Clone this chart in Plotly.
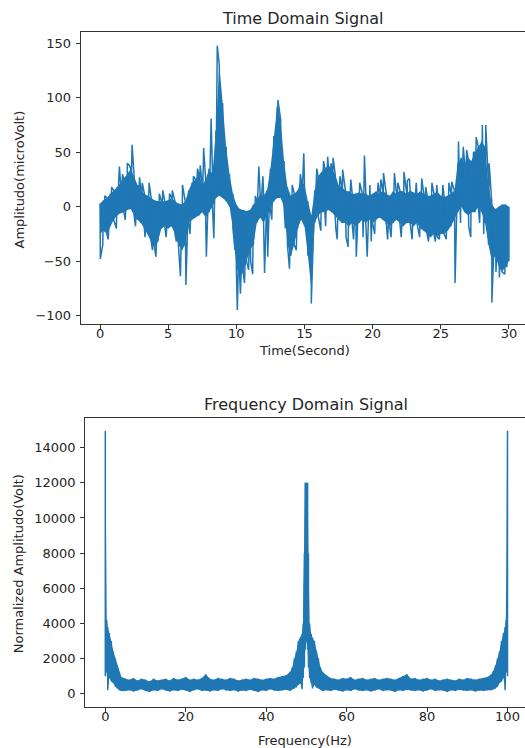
import plotly.graph_objects as go

# ---------------- Time domain data ----------------
time_s = [i * 0.25 for i in range(121)]
upper_uv = [
    3, 6, 8, 12, 15, 18, 22, 25,
    30, 35, 28, 20, 15, 12, 10, 8,
    6, 5, 5, 5, 6, 8, 5, 3,
    2, 5, 15, 22, 25, 30, 20, 25,
    35, 30, 70, 130, 95, 55, 30, 12,
    2, -2, -3, -4, -3, 2, 5, 12,
    10, 15, 35, 65, 92, 80, 42, 18,
    10, 12, 15, 25, 20, 5, -8, 15,
    28, 32, 35, 38, 35, 30, 20, 18,
    15, 14, 12, 12, 13, 12, 12, 10,
    12, 14, 12, 15, 12, 10, 14, 12,
    15, 14, 12, 15, 13, 12, 14, 12,
    10, 10, 12, 14, 10, 9, 10, 12,
    15, 40, 45, 40, 45, 42, 50, 55,
    60, 55, 20, 2, -2, 0, 2, 2,
    0,
]
lower_uv = [
    -25, -22, -25, -18, -12, -8, -6, -5,
    -3, -2, -8, -12, -15, -20, -25, -32,
    -38, -32, -20, -18, -20, -18, -25, -35,
    -40, -35, -15, -12, -10, -8, -5, -10,
    -5, 0, 8, 10, 8, 5, 0, -20,
    -55, -65, -60, -50, -40, -35, -15, -10,
    -15, -8, -3, 5, 8, 8, 0, -35,
    -45, -35, -20, -12, -18, -45, -75, -15,
    -8, -5, -5, -3, -5, -8, -12, -15,
    -15, -18, -15, -18, -15, -12, -15, -12,
    -15, -12, -10, -12, -15, -18, -15, -12,
    -15, -18, -15, -15, -18, -15, -20, -22,
    -25, -28, -25, -28, -25, -25, -22, -18,
    -12, -5, 0, -5, -8, -5, -5, 0,
    -5, -15, -35, -50, -45, -55, -60, -55,
    -50,
]
# large isolated excursions
spike_t = [0.02, 0.2, 0.6, 1.05, 1.42, 2.0, 2.35, 2.9, 3.6, 4.1, 4.6, 5.3,
           5.9, 6.05, 6.3, 7.15, 7.6, 7.8, 8.15, 8.35, 8.6, 10.07, 10.3, 10.9,
           11.2, 11.65, 11.95, 12.07, 12.3, 13.05, 13.9, 14.95, 15.5, 16.2,
           16.7, 17.1, 17.4, 17.8, 18.2, 18.8, 19.4, 19.6, 19.9, 20.4, 20.8,
           21.1, 21.6, 22.3, 22.7, 23.6, 24.7, 25.8, 26.05, 26.3, 26.9, 27.2,
           27.6, 28.05, 28.15, 28.3, 28.75, 29.3, 29.7]
spike_uv = [-48, -35, -30, -14, 37, 40, 57, 27, 22, -46, 15, 15,
            -64, 20, -72, 35, 54, -46, 81, -29, 148, -95, -80, -58,
            -62, 37, 28, -61, -46, 98, -57, 49, -89, -22,
            46, 45, -30, 34, -37, -46, 47, -46, -32, 22, 31,
            -30, 31, 32, 26, 26, 20, 23, -70, 60, 52, -28,
            64, 75, -25, 75, -88, -65, -62]
# smaller excursions along the band edges
minor_t = [0.35, 0.85, 1.2, 1.65, 1.85, 2.15, 2.6, 3.1, 3.3, 3.85, 4.35, 4.85,
           5.1, 5.6, 6.6, 6.85, 7.35, 9.9, 10.6, 11.05, 11.4, 12.6, 13.6, 14.1,
           14.4, 14.7, 15.9, 16.4, 16.55, 16.95, 17.3, 17.6, 18.05, 18.4, 18.6,
           19.05, 19.3, 19.8, 20.15, 20.6, 21.35, 21.85, 22.1, 22.55, 22.9, 23.2,
           23.45, 23.9, 24.1, 24.35, 24.6, 24.9, 25.15, 25.4, 25.6, 26.45, 26.65,
           27.05, 27.4, 27.85, 28.55, 29.05, 29.85]
minor_uv = [10, 18, -20, 30, -12, 38, -18, 22, -28, -40, 12, -28,
            12, -32, -25, 28, 38, -40, -70, -50, 10, -12, -20, 20,
            -40, 30, 35, 42, -18, 40, -20, 28, -28, 25, -30,
            22, -28, 20, -25, 25, -28, 22, -28, 24, -30, 22,
            -28, 18, -32, 22, -32, -30, 20, -30, 22, -15, 55,
            -18, 50, -15, 40, -60, -55]

# ---------------- Frequency domain data ----------------
freq_hz = ([0, 0.15, 0.35, 0.6, 1, 1.5, 2, 2.5, 3, 3.5, 4]
           + list(range(5, 46))
           + [46, 46.5, 47, 47.5, 48, 48.5, 48.9, 49.2, 49.5, 49.7, 50.0,
              50.3, 50.5, 50.8, 51.2, 51.5, 52, 52.5, 53, 53.5, 54]
           + list(range(55, 96))
           + [96, 96.5, 97, 97.5, 98, 98.5, 99, 99.4, 99.65, 99.85, 100])
fft_upper = ([14960, 6300, 4200, 3800, 3450, 3000, 2400, 2000, 1600, 1200, 950]
             + [850, 800, 900, 750, 850, 800, 700, 850, 750, 800, 850, 750, 900, 800,
                850, 950, 800, 850, 800, 900, 1100, 850, 800, 900, 850, 800, 900, 850,
                750, 800, 850, 800, 900, 850, 800, 850, 900, 850, 950, 1000, 1050]
             + [1250, 1500, 2000, 2400, 3000, 3200, 3400, 4000, 8000, 12000, 12000,
                12000, 8000, 4000, 3400, 3200, 3000, 2400, 2000, 1500, 1250]
             + [1050, 900, 850, 800, 900, 850, 950, 800, 850, 900, 800, 850, 900, 800,
                850, 900, 850, 800, 900, 1000, 1100, 850, 900, 800, 850, 900, 800, 850,
                750, 800, 850, 800, 750, 850, 800, 900, 850, 800, 850, 900, 950]
             + [1100, 1300, 1600, 2000, 2400, 3000, 3450, 3800, 4200, 6300, 14960])
fft_lower = ([1000, 1500, 1200, 200, 900, 700, 600, 400, 300, 200, 150]
             + [150, 200, 120, 180, 250, 150, 100, 200, 150, 250, 180, 120, 200, 150,
                220, 180, 100, 200, 250, 150, 180, 120, 200, 150, 250, 180, 150, 200,
                120, 180, 150, 220, 180, 100, 200, 150, 250, 180, 150, 200, 220]
             + [150, 250, 300, 350, 500, 600, 250, 900, 1500, 2500, 3000,
                2500, 1500, 900, 600, 300, 500, 350, 300, 250, 150]
             + [200, 150, 220, 180, 120, 200, 150, 250, 180, 150, 200, 120, 180, 250,
                150, 200, 180, 100, 200, 150, 220, 180, 150, 200, 120, 180, 250, 150,
                200, 180, 100, 200, 150, 220, 180, 150, 200, 120, 180, 150, 200]
             + [200, 250, 300, 400, 600, 700, 900, 200, 1200, 1500, 1000])

time_ticks = [0, 5, 10, 15, 20, 25, 30]
amp_ticks = [-100, -50, 0, 50, 100, 150]
freq_ticks = [0, 20, 40, 60, 80, 100]
fft_ticks = [0, 2000, 4000, 6000, 8000, 10000, 12000, 14000]

BLUE = "#1f77b4"
TXT = "#262626"
AX = "#333333"
FONT = "DejaVu Sans"
W, H = 525, 748


def zigzag(xs, up, lo, sx=(), sy=()):
    pts = []
    for x, u, l in zip(xs, up, lo):
        pts.append((x, u))
        pts.append((x, l))
    pts += list(zip(sx, sy))
    pts.sort(key=lambda p: p[0])
    return [p[0] for p in pts], [p[1] for p in pts]


fig = go.Figure()

fig.add_trace(go.Scatter(x=time_s + time_s[::-1], y=upper_uv + lower_uv[::-1],
                         fill="toself", fillcolor=BLUE, line=dict(width=0),
                         mode="lines", hoverinfo="skip", showlegend=False,
                         xaxis="x", yaxis="y"))
zx, zy = zigzag(time_s, upper_uv, lower_uv,
                list(spike_t) + list(minor_t), list(spike_uv) + list(minor_uv))
fig.add_trace(go.Scatter(x=zx, y=zy, mode="lines", line=dict(color=BLUE, width=1.5),
                         showlegend=False, xaxis="x", yaxis="y"))

fig.add_trace(go.Scatter(x=freq_hz + freq_hz[::-1], y=fft_upper + fft_lower[::-1],
                         fill="toself", fillcolor=BLUE, line=dict(width=0),
                         mode="lines", hoverinfo="skip", showlegend=False,
                         xaxis="x2", yaxis="y2"))
fx, fy = zigzag(freq_hz, fft_upper, fft_lower)
fig.add_trace(go.Scatter(x=fx, y=fy, mode="lines", line=dict(color=BLUE, width=1.5),
                         showlegend=False, xaxis="x2", yaxis="y2"))


def px_x(p):
    return p / W


def px_y(p):
    return (H - p) / H


def axis_common(standoff):
    return dict(showgrid=False, zeroline=False, showline=True, linecolor=AX,
                linewidth=1, ticks="outside", ticklen=4, tickcolor=AX,
                tickfont=dict(family=FONT, size=13, color=TXT),
                ticklabelstandoff=standoff, automargin=False, fixedrange=True)


fig.update_layout(
    width=W, height=H, template="none",
    paper_bgcolor="white", plot_bgcolor="white",
    margin=dict(l=0, r=0, t=0, b=0),
    xaxis=dict(axis_common(-7), domain=[px_x(80.7), 1.0], range=[-1.42, 31.18],
               anchor="y", mirror=True, tickvals=time_ticks,
               ticktext=[str(v) for v in time_ticks]),
    yaxis=dict(axis_common(2), domain=[px_y(324), px_y(32.3)], range=[-107.8, 160.3],
               anchor="x", mirror=False, tickvals=amp_ticks,
               ticktext=[str(v).replace("-", "\u2212") for v in amp_ticks]),
    xaxis2=dict(axis_common(-7), domain=[px_x(85.2), 1.0], range=[-5.0, 104.35],
                anchor="y2", mirror=True, tickvals=freq_ticks,
                ticktext=[str(v) for v in freq_ticks]),
    yaxis2=dict(axis_common(2), domain=[px_y(707.3), px_y(417.7)], range=[-774, 15707],
                anchor="x2", mirror=False, tickvals=fft_ticks,
                ticktext=[str(v) for v in fft_ticks]),
)

annots = [
    ("Time Domain Signal", 303, 18.3, 16, 0),
    ("Time(Second)", 304, 350, 13, 0),
    ("Amplitudo(microVolt)", 19.5, 180, 13, -90),
    ("Frequency Domain Signal", 306, 404.3, 16, 0),
    ("Frequency(Hz)", 305, 740.0, 13, 0),
    ("Normalized Amplitudo(Volt)", 18.3, 564, 13, -90),
]
for text, x, y, size, ang in annots:
    fig.add_annotation(text=text, xref="paper", yref="paper", x=px_x(x), y=px_y(y),
                       xanchor="center", yanchor="middle", showarrow=False,
                       textangle=ang, font=dict(family=FONT, size=size, color=TXT))

fig.write_html("out.html",
               config={"displayModeBar": False, "staticPlot": True},
               post_script="document.body.style.margin='0';"
                           "document.body.style.overflow='hidden';")
